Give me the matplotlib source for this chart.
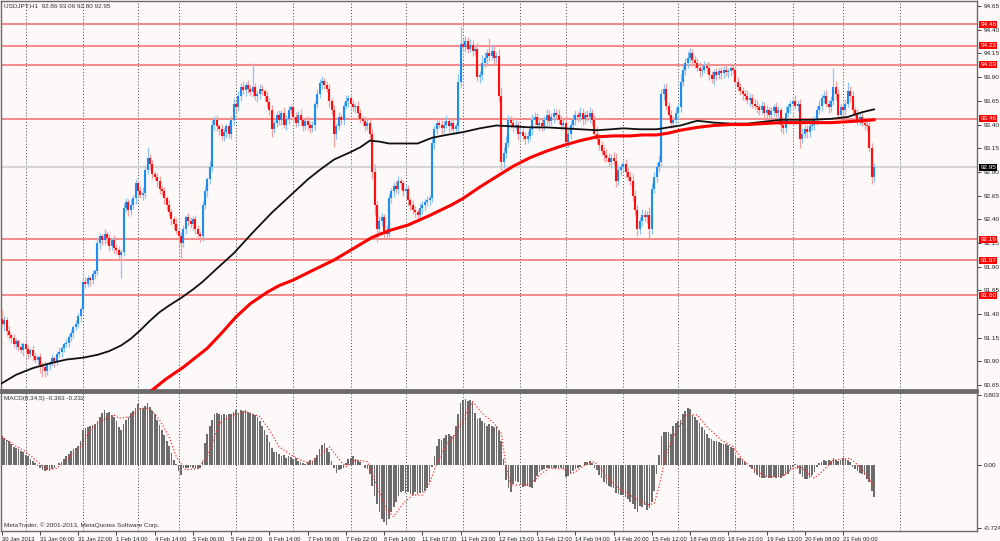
import numpy as np
import matplotlib.pyplot as plt
import matplotlib.transforms as mtransforms

# USDJPY H1, one close per bar (open = previous close)
first_open = 91.35
closes = [
    91.30, 91.34, 91.22, 91.18, 91.15, 91.08, 91.12, 91.05, 91.02, 91.08,
    91.03, 90.98, 91.02, 90.96, 90.92, 90.95, 90.86, 90.84, 90.80, 90.86,
    90.88, 90.94, 90.90, 90.98, 91.00, 91.04, 91.08, 91.10, 91.16, 91.20,
    91.26, 91.30, 91.38, 91.45, 91.74, 91.72, 91.78, 91.76, 91.82, 91.85,
    92.15, 92.22, 92.18, 92.25, 92.20, 92.12, 92.18, 92.10, 92.08, 92.02,
    92.06, 92.52, 92.58, 92.50, 92.55, 92.62, 92.78, 92.70, 92.66, 92.68,
    92.92, 93.05, 92.98, 92.88, 92.85, 92.80, 92.72, 92.70, 92.62, 92.55,
    92.48, 92.40, 92.35, 92.28, 92.22, 92.15, 92.30, 92.42, 92.38, 92.35,
    92.40, 92.30, 92.25, 92.22, 92.55, 92.70, 92.82, 92.95, 93.40, 93.45,
    93.38, 93.35, 93.28, 93.32, 93.38, 93.30, 93.45, 93.62, 93.58, 93.70,
    93.80, 93.76, 93.82, 93.78, 93.74, 93.80, 93.70, 93.72, 93.78, 93.75,
    93.70, 93.64, 93.55, 93.35, 93.42, 93.50, 93.45, 93.52, 93.40, 93.46,
    93.55, 93.58, 93.48, 93.42, 93.50, 93.45, 93.38, 93.44, 93.40, 93.36,
    93.40, 93.62, 93.72, 93.84, 93.86, 93.82, 93.78, 93.65, 93.55, 93.30,
    93.38, 93.48, 93.45, 93.60, 93.65, 93.68, 93.62, 93.58, 93.60, 93.52,
    93.46, 93.44, 93.38, 93.42, 93.30, 92.90, 92.55, 92.30, 92.38, 92.42,
    92.28, 92.25, 92.62, 92.70, 92.75, 92.72, 92.80, 92.78, 92.70, 92.72,
    92.60, 92.55, 92.50, 92.48, 92.45, 92.52, 92.55, 92.58, 92.60, 92.62,
    93.20, 93.35, 93.42, 93.40, 93.36, 93.40, 93.44, 93.38, 93.42, 93.35,
    93.38, 93.85, 94.25, 94.22, 94.28, 94.20, 94.24, 94.18, 94.20, 93.90,
    93.92, 94.05, 94.10, 94.15, 94.12, 94.18, 94.10, 94.12, 93.70, 93.00,
    93.10, 93.20, 93.45, 93.42, 93.38, 93.40, 93.30, 93.32, 93.28, 93.25,
    93.28, 93.35, 93.45, 93.48, 93.40, 93.42, 93.38, 93.45, 93.50, 93.44,
    93.48, 93.52, 93.50, 93.45, 93.40, 93.42, 93.22, 93.30, 93.40, 93.45,
    93.50, 93.48, 93.52, 93.46, 93.50, 93.48, 93.52, 93.45, 93.30, 93.25,
    93.18, 93.12, 93.08, 93.05, 93.00, 93.05, 93.02, 92.80, 92.92, 92.95,
    92.98, 92.90, 92.85, 92.80, 92.65, 92.50, 92.30, 92.38, 92.45, 92.42,
    92.45, 92.30, 92.72, 92.85, 92.95, 93.00, 93.72, 93.78, 93.60, 93.50,
    93.42, 93.45, 93.52, 93.58, 93.85, 93.98, 94.05, 94.10, 94.15, 94.08,
    94.05, 94.00, 93.96, 93.98, 94.02, 94.00, 93.92, 93.88, 93.95, 93.92,
    93.96, 93.94, 93.98, 93.95, 93.96, 94.00, 93.98, 93.85, 93.80, 93.75,
    93.72, 93.70, 93.66, 93.68, 93.62, 93.60, 93.58, 93.55, 93.60, 93.52,
    93.55, 93.50, 93.54, 93.58, 93.52, 93.55, 93.40, 93.36, 93.52, 93.58,
    93.62, 93.65, 93.60, 93.62, 93.25, 93.30, 93.35, 93.32, 93.38, 93.40,
    93.45, 93.55, 93.60, 93.68, 93.70, 93.62, 93.58, 93.65, 93.80, 93.72,
    93.50, 93.58, 93.55, 93.62, 93.75, 93.70, 93.55, 93.50, 93.45, 93.48,
    93.42, 93.40, 93.38, 93.15, 92.85, 92.95,
]
# wick lengths above / below the body, in 0.01 yen
up_wick = [
    9, 4, 3, 5, 2, 4, 3, 2, 5, 3,  4, 3, 2, 5, 3, 2, 4, 3, 6, 2,
    3, 4, 2, 3, 5, 2, 3, 4, 2, 3,  2, 4, 3, 3, 4, 5, 3, 2, 4, 3,
    6, 4, 3, 5, 3, 4, 2, 5, 3, 4,  3, 5, 4, 3, 6, 4, 5, 3, 4, 6,
    5, 11, 4, 5, 3, 4, 6, 3, 4, 3,  5, 3, 4, 6, 3, 5, 4, 3, 5, 4,
    3, 5, 4, 3, 4, 5, 3, 6, 5, 4,  5, 3, 6, 4, 3, 5, 4, 6, 3, 5,
    4, 6, 3, 5, 4, 25, 4, 3, 5, 4,  3, 5, 4, 6, 3, 4, 5, 3, 6, 4,
    5, 4, 3, 5, 4, 6, 3, 4, 5, 3,  4, 3, 6, 4, 5, 3, 4, 5, 3, 6,
    4, 5, 3, 4, 6, 3, 5, 4, 3, 5,  4, 3, 5, 4, 6, 5, 8, 4, 6, 5,
    4, 6, 5, 3, 4, 5, 6, 4, 3, 5,  4, 3, 5, 4, 3, 5, 4, 3, 5, 4,
    6, 5, 4, 3, 5, 4, 6, 3, 4, 5,  4, 8, 19, 6, 5, 4, 6, 5, 4, 6,
    5, 8, 6, 5, 16, 6, 5, 4, 8, 10,  6, 8, 5, 4, 6, 5, 4, 6, 5, 4,
    5, 4, 6, 5, 4, 6, 5, 4, 6, 5,  4, 5, 4, 6, 5, 4, 8, 5, 4, 6,
    5, 4, 6, 5, 4, 5, 6, 4, 5, 8,  6, 5, 4, 6, 5, 4, 6, 8, 5, 4,
    5, 6, 4, 5, 8, 6, 5, 4, 6, 5,  4, 8, 6, 5, 4, 8, 6, 5, 6, 4,
    5, 4, 6, 5, 8, 6, 5, 8, 6, 5,  4, 5, 6, 4, 5, 4, 6, 5, 4, 5,
    4, 5, 4, 6, 4, 5, 4, 6, 5, 4,  5, 4, 6, 5, 4, 5, 6, 4, 5, 4,
    6, 4, 5, 4, 6, 5, 4, 6, 8, 5,  4, 5, 6, 4, 5, 6, 4, 5, 6, 5,
    4, 5, 6, 4, 5, 6, 4, 5, 20, 6,  5, 4, 6, 5, 10, 6, 5, 4, 6, 5,
    4, 5, 4, 6, 5, 4,
]
down_wick = [
    3, 8, 5, 4, 6, 3, 5, 4, 3, 6,  4, 5, 3, 6, 4, 5, 8, 10, 6, 4,
    5, 3, 6, 4, 3, 5, 4, 3, 5, 4,  5, 3, 4, 6, 4, 5, 3, 6, 4, 5,
    4, 6, 5, 4, 6, 5, 4, 6, 5, 4,  24, 5, 4, 6, 5, 4, 6, 5, 4, 6,
    5, 4, 6, 5, 4, 6, 5, 4, 6, 5,  4, 6, 5, 4, 10, 18, 4, 6, 5, 4,
    6, 5, 4, 6, 5, 4, 6, 5, 4, 6,  5, 6, 4, 5, 6, 4, 5, 6, 5, 4,
    5, 4, 6, 5, 4, 5, 4, 6, 5, 4,  5, 6, 5, 8, 4, 5, 6, 5, 4, 6,
    5, 4, 6, 5, 4, 6, 5, 4, 6, 5,  4, 6, 5, 4, 6, 5, 4, 6, 5, 14,
    5, 4, 6, 5, 4, 6, 5, 4, 6, 5,  4, 6, 5, 4, 6, 8, 10, 14, 6, 5,
    8, 6, 4, 5, 6, 4, 5, 6, 5, 4,  6, 5, 4, 6, 5, 4, 6, 5, 4, 5,
    4, 6, 5, 4, 6, 5, 4, 6, 5, 4,  5, 6, 5, 4, 6, 5, 4, 6, 5, 4,
    6, 5, 4, 6, 5, 4, 6, 5, 6, 8,  6, 5, 4, 6, 5, 4, 6, 5, 4, 6,
    5, 4, 6, 5, 4, 6, 5, 4, 6, 5,  4, 6, 5, 4, 6, 5, 4, 6, 5, 4,
    6, 5, 4, 6, 5, 4, 6, 5, 4, 6,  5, 4, 6, 5, 4, 6, 5, 6, 4, 5,
    4, 6, 5, 4, 6, 5, 8, 6, 5, 4,  6, 10, 5, 4, 6, 5, 4, 6, 5, 4,
    6, 5, 4, 6, 5, 4, 6, 5, 4, 6,  5, 4, 6, 5, 4, 6, 5, 4, 6, 5,
    4, 6, 5, 4, 6, 5, 4, 6, 5, 4,  6, 5, 4, 6, 5, 4, 6, 5, 4, 6,
    5, 4, 6, 5, 4, 6, 8, 6, 5, 4,  6, 5, 4, 6, 10, 5, 4, 6, 5, 4,
    6, 5, 4, 6, 5, 4, 6, 5, 4, 6,  5, 4, 6, 5, 4, 6, 5, 4, 6, 5,
    4, 6, 5, 4, 8, 6,
]

# moving averages, read at a few bars
black_ma_idx = [0, 6, 13, 20, 27, 34, 40, 45, 50, 54, 58, 62, 66, 70, 75, 80, 84, 90, 97, 105,
                113, 122, 128, 133, 139, 146, 150, 154, 158, 162, 168, 174, 180, 186, 193, 200,
                207, 214, 221, 228, 235, 242, 249, 255, 260, 267, 274, 279, 284, 291, 298, 305,
                312, 319, 326, 333, 339, 347, 354, 360, 365]
black_ma_val = [90.67, 90.76, 90.83, 90.88, 90.92, 90.94, 90.97, 91.01, 91.07, 91.14, 91.23,
                91.33, 91.42, 91.49, 91.57, 91.66, 91.74, 91.88, 92.04, 92.26, 92.47, 92.68,
                92.82, 92.92, 93.03, 93.11, 93.16, 93.23, 93.22, 93.20, 93.20, 93.20, 93.26,
                93.29, 93.32, 93.36, 93.39, 93.38, 93.37, 93.37, 93.36, 93.35, 93.34, 93.35,
                93.36, 93.35, 93.35, 93.37, 93.39, 93.44, 93.42, 93.41, 93.41, 93.43, 93.45,
                93.45, 93.45, 93.46, 93.48, 93.53, 93.56]
red_ma_idx = [62, 69, 76, 81, 86, 92, 98, 104, 111, 116, 122, 130, 139, 147, 155, 162, 170,
              179, 188, 193, 200, 207, 214, 221, 228, 235, 242, 249, 256, 263, 268, 274, 279,
              284, 291, 298, 305, 312, 319, 326, 336, 347, 354, 360, 365]
red_ma_val = [90.58, 90.72, 90.84, 90.94, 91.04, 91.20, 91.37, 91.51, 91.63, 91.70, 91.76,
              91.86, 91.97, 92.09, 92.21, 92.28, 92.34, 92.44, 92.55, 92.62, 92.74, 92.85,
              92.96, 93.05, 93.12, 93.18, 93.23, 93.27, 93.28, 93.28, 93.29, 93.29, 93.31,
              93.34, 93.37, 93.39, 93.40, 93.40, 93.41, 93.42, 93.42, 93.42, 93.43, 93.44, 93.45]

levels = [94.46, 94.23, 94.03, 93.46, 92.19, 91.97, 91.60]
last_price = 92.95
price_ticks = [94.65, 94.40, 94.15, 93.90, 93.65, 93.40, 93.15, 92.90, 92.65, 92.40,
               92.15, 91.90, 91.65, 91.40, 91.15, 90.90, 90.65]

macd_hist = [
    0.33, 0.31, 0.29, 0.27, 0.24, 0.21, 0.19, 0.18, 0.16, 0.15,
    0.12, 0.10, 0.07, 0.05, 0.02, -0.01, -0.04, -0.06, -0.07, -0.06,
    -0.07, -0.05, -0.03, 0.00, 0.02, 0.04, 0.07, 0.10, 0.13, 0.16,
    0.18, 0.20, 0.22, 0.27, 0.40, 0.43, 0.44, 0.45, 0.46, 0.47,
    0.50, 0.55, 0.60, 0.63, 0.60, 0.61, 0.57, 0.55, 0.50, 0.44,
    0.40, 0.47, 0.52, 0.55, 0.60, 0.62, 0.66, 0.70, 0.66, 0.65,
    0.68, 0.71, 0.67, 0.62, 0.58, 0.52, 0.46, 0.40, 0.35, 0.28,
    0.22, 0.14, 0.06, 0.01, -0.07, -0.11, -0.03, -0.03, -0.04, -0.02,
    -0.03, -0.03, -0.05, -0.03, 0.05, 0.25, 0.36, 0.45, 0.52, 0.58,
    0.60, 0.59, 0.57, 0.58, 0.57, 0.58, 0.59, 0.61, 0.63, 0.60,
    0.63, 0.62, 0.63, 0.61, 0.60, 0.59, 0.57, 0.55, 0.51, 0.45,
    0.40, 0.34, 0.26, 0.20, 0.15, 0.15, 0.13, 0.10, 0.11, 0.08,
    0.10, 0.09, 0.07, 0.08, 0.05, 0.03, 0.02, 0.01, 0.03, 0.06,
    0.05, 0.08, 0.12, 0.18, 0.23, 0.25, 0.20, 0.15, 0.05, -0.03,
    -0.09, -0.06, -0.05, -0.04, 0.02, 0.07, 0.08, 0.10, 0.07, 0.06,
    0.04, 0.00, -0.03, -0.05, -0.10, -0.24, -0.36, -0.45, -0.54, -0.62,
    -0.66, -0.69, -0.62, -0.54, -0.48, -0.42, -0.36, -0.31, -0.30, -0.32,
    -0.31, -0.33, -0.34, -0.31, -0.33, -0.32, -0.31, -0.30, -0.26, -0.20,
    -0.02, 0.10, 0.22, 0.30, 0.29, 0.31, 0.34, 0.36, 0.33, 0.34,
    0.45, 0.58, 0.71, 0.75, 0.76, 0.74, 0.75, 0.72, 0.60, 0.53,
    0.54, 0.50, 0.48, 0.45, 0.47, 0.45, 0.44, 0.45, 0.39, 0.27,
    0.07, -0.17, -0.26, -0.31, -0.22, -0.18, -0.20, -0.23, -0.25, -0.24,
    -0.24, -0.25, -0.26, -0.20, -0.13, -0.08, -0.06, -0.05, -0.04, -0.03,
    -0.03, -0.03, -0.04, -0.03, -0.03, -0.05, -0.14, -0.13, -0.10, -0.07,
    -0.05, -0.03, -0.02, 0.00, 0.03, 0.04, 0.05, 0.02, -0.03, -0.06,
    -0.11, -0.15, -0.20, -0.22, -0.24, -0.25, -0.27, -0.32, -0.33, -0.34,
    -0.35, -0.37, -0.39, -0.42, -0.45, -0.50, -0.54, -0.47, -0.48, -0.46,
    -0.52, -0.49, -0.42, -0.30, -0.10, 0.11, 0.33, 0.38, 0.38, 0.38,
    0.36, 0.45, 0.48, 0.50, 0.52, 0.59, 0.62, 0.65, 0.64, 0.57,
    0.55, 0.52, 0.48, 0.44, 0.40, 0.36, 0.31, 0.30, 0.28, 0.27,
    0.26, 0.25, 0.24, 0.24, 0.23, 0.21, 0.20, 0.12, 0.08, 0.08,
    0.07, 0.04, 0.00, -0.02, -0.05, -0.09, -0.12, -0.14, -0.15, -0.15,
    -0.14, -0.15, -0.15, -0.14, -0.15, -0.14, -0.15, -0.13, -0.12, -0.10,
    -0.06, -0.02, 0.01, -0.05, -0.10, -0.14, -0.16, -0.16, -0.15, -0.11,
    -0.08, -0.02, 0.02, 0.04, 0.06, 0.05, 0.06, 0.05, 0.08, 0.06,
    0.05, 0.06, 0.08, 0.07, 0.06, 0.04, -0.02, -0.05, -0.07, -0.09,
    -0.10, -0.12, -0.16, -0.20, -0.30, -0.363,
]
signal_idx = [0, 5, 10, 15, 19, 23, 27, 33, 37, 41, 47, 49, 54, 58, 62, 66, 70, 73, 77, 82,
              86, 91, 97, 102, 108, 112, 116, 121, 125, 129, 133, 137, 142, 144, 148, 153, 157,
              161, 164, 168, 172, 176, 179, 182, 186, 189, 193, 197, 201, 206, 209, 211, 213,
              217, 221, 225, 229, 235, 239, 245, 248, 253, 259, 264, 270, 273, 275, 278, 282,
              287, 291, 295, 301, 306, 310, 315, 320, 327, 331, 334, 340, 344, 348, 355, 359, 365]
signal_val = [0.326, 0.230, 0.153, 0.038, -0.057, -0.038, 0.057, 0.211, 0.402, 0.498,
              0.575, 0.536, 0.556, 0.651, 0.651, 0.517, 0.326, 0.096, -0.057, -0.038,
              0.096, 0.479, 0.575, 0.613, 0.556, 0.402, 0.211, 0.115, 0.057, 0.019,
              0.115, 0.211, 0.038, -0.019, 0.057, 0.038, -0.249, -0.517, -0.594, -0.441,
              -0.345, -0.345, -0.211, 0.019, 0.230, 0.326, 0.517, 0.728, 0.594, 0.479,
              0.364, -0.019, -0.230, -0.230, -0.230, -0.115, -0.038, -0.046, -0.096, 0.019,
              0.038, -0.134, -0.287, -0.364, -0.460, -0.441, -0.249, 0.134, 0.383, 0.575,
              0.575, 0.441, 0.287, 0.211, 0.057, -0.057, -0.142, -0.126, -0.038, -0.019,
              -0.153, -0.057, 0.057, 0.077, -0.019, -0.232]
macd_ticks = [0.803, 0.0, -0.724]
macd_tick_labels = ['0.803', '0.00', '-0.724']

time_labels = ['30 Jan 2013', '31 Jan 06:00', '31 Jan 22:00', '1 Feb 14:00', '4 Feb 14:00',
               '5 Feb 06:00', '5 Feb 22:00', '6 Feb 14:00', '7 Feb 06:00', '7 Feb 22:00',
               '8 Feb 14:00', '11 Feb 07:00', '11 Feb 23:00', '12 Feb 15:00', '13 Feb 12:00',
               '14 Feb 04:00', '14 Feb 20:00', '15 Feb 12:00', '18 Feb 05:00', '18 Feb 21:00',
               '19 Feb 13:00', '20 Feb 08:00', '21 Feb 00:00']
label_step = 16
day_breaks = [10, 34, 57, 74, 98, 122, 146, 169, 193, 217, 236, 260, 283, 307, 331, 352, 376]

plt.rcParams['font.family'] = ['Liberation Sans', 'DejaVu Sans']
FS = 4.6
FS_TIME = 4.2
BG = '#fdf9f9'

n = len(closes)
assert len(up_wick) == n and len(down_wick) == n and len(macd_hist) == n
x = np.arange(n)
c = np.array(closes)
o = np.r_[first_open, c[:-1]]
hi = np.maximum(o, c) + np.array(up_wick) / 100
lo = np.minimum(o, c) - np.array(down_wick) / 100
bull = c >= o

fig = plt.figure(figsize=(10, 5.41), dpi=100, facecolor=BG)
ax1 = fig.add_axes([0.001, 0.2791, 0.976, 0.719], facecolor=BG)
ax2 = fig.add_axes([0.001, 0.0185, 0.976, 0.2569], facecolor=BG)

for ax in (ax1, ax2):
    ax.set_xlim(-0.32, 408.06)
    for d in day_breaks:
        ax.axvline(d, color='#3c3c3c', lw=0.7, ls=(0, (1, 2.2)), zorder=1)
    for s in ax.spines.values():
        s.set_color('#6a6a6a')
        s.set_linewidth(1.0)

# price panel
ax1.set_ylim(90.599, 94.703)
ax1.axhline(last_price, color='#d6d6d6', lw=1.6, zorder=1)
for lv in levels:
    ax1.axhline(lv, color='#f26b6b', lw=1.1, zorder=2)

body_lo = np.minimum(o, c)
body_hi = np.maximum(np.maximum(o, c), body_lo + 0.015)
ax1.vlines(x[bull], lo[bull], hi[bull], color='#8cc4f4', lw=0.9, zorder=3)
ax1.vlines(x[~bull], lo[~bull], hi[~bull], color='#f4a0a0', lw=0.9, zorder=3)
ax1.vlines(x[bull], body_lo[bull], body_hi[bull], color='#1e8cf0', lw=1.5, zorder=4)
ax1.vlines(x[~bull], body_lo[~bull], body_hi[~bull], color='#ff1010', lw=1.5, zorder=4)

ax1.plot(black_ma_idx, black_ma_val, color='#101010', lw=1.3, zorder=5)
ax1.plot(red_ma_idx, red_ma_val, color='#ff0000', lw=2.2, zorder=5)

ax1.yaxis.tick_right()
ax1.set_yticks(price_ticks)
ax1.set_yticklabels(['%.2f' % p for p in price_ticks])
ax1.tick_params(axis='y', labelsize=FS, length=3, width=0.6, pad=1.5, colors='#202020')
ax1.tick_params(axis='x', bottom=False, labelbottom=False)

tr = mtransforms.blended_transform_factory(ax1.transAxes, ax1.transData)
for lv in levels:
    ax1.text(1.0035, lv, '%.2f' % lv, transform=tr, fontsize=FS, color='white', va='center',
             ha='left', zorder=10, clip_on=False,
             bbox=dict(boxstyle='square,pad=0.15', fc='#ff0000', ec='none'))
ax1.text(1.0035, last_price, '%.2f' % last_price, transform=tr, fontsize=FS, color='white',
         va='center', ha='left', zorder=10, clip_on=False,
         bbox=dict(boxstyle='square,pad=0.15', fc='#000000', ec='none'))

ax1.text(0.003, 0.987, 'USDJPY,H1  92.86 93.06 92.80 92.95', transform=ax1.transAxes,
         fontsize=FS, color='#303030', va='center', ha='left')

# MACD panel
ax2.set_ylim(-0.758, 0.838)
ax2.bar(x, macd_hist, width=0.7, color='#6c6c6c', edgecolor='none', zorder=3)
ax2.plot(signal_idx, signal_val, color='#ff3030', lw=0.9, ls=(0, (1, 1.6)), zorder=4)
ax2.yaxis.tick_right()
ax2.set_yticks(macd_ticks)
ax2.set_yticklabels(macd_tick_labels)
ax2.tick_params(axis='y', labelsize=FS, length=3, width=0.6, pad=1.5, colors='#202020')
ax2.set_xticks(np.arange(len(time_labels)) * label_step)
ax2.set_xticklabels(time_labels, ha='left')
ax2.tick_params(axis='x', labelsize=FS_TIME, length=3, width=0.6, pad=1.0, colors='#202020')
ax2.spines['top'].set_linewidth(2.0)
ax1.spines['bottom'].set_linewidth(2.0)

ax2.text(0.003, 0.955, 'MACD(8,34,5) -0.363 -0.232', transform=ax2.transAxes,
         fontsize=FS, color='#303030', va='center', ha='left')
ax2.text(0.003, 0.045, 'MetaTrader, \u00a9 2001-2013, MetaQuotes Software Corp.',
         transform=ax2.transAxes, fontsize=FS, color='#303030', va='center', ha='left')

fig.savefig('out.png', dpi=100, facecolor=BG)
